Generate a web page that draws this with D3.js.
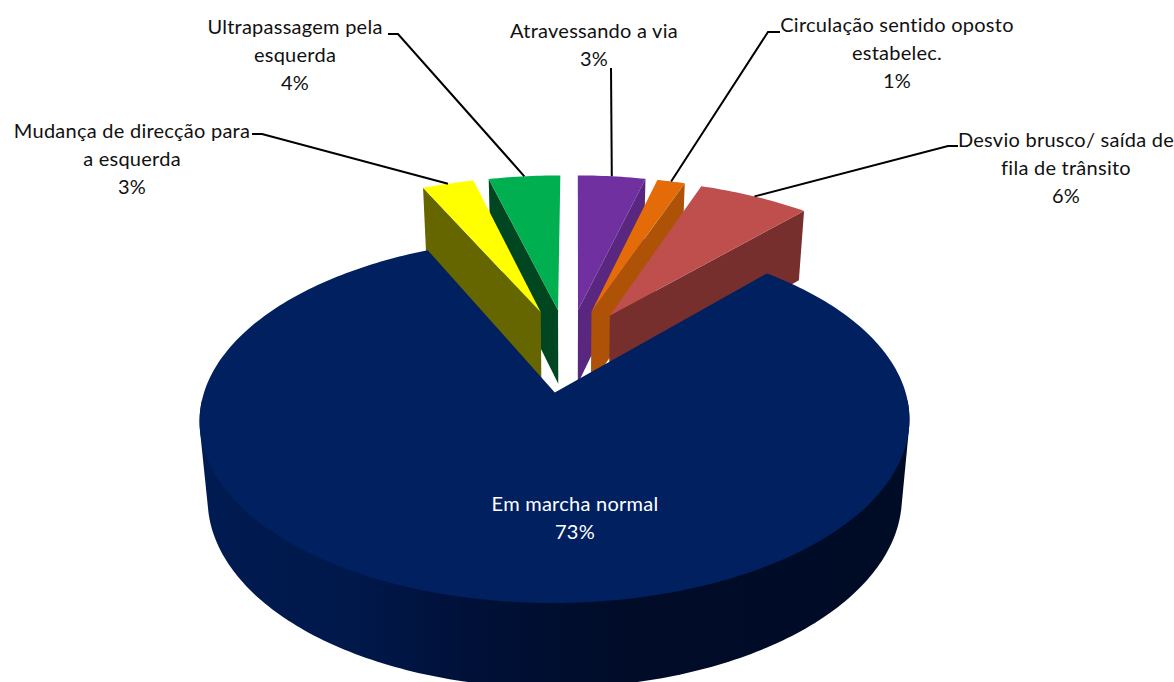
<!DOCTYPE html>
<html>
<head>
<meta charset="utf-8">
<script src="https://cdn.jsdelivr.net/npm/d3@7"></script>
<style>
html, body { margin: 0; padding: 0; background: #fff; overflow: hidden; }
text { font-family: Lato, "Open Sans", sans-serif; font-size: 20px; letter-spacing: 0.25px; fill: #111; }
</style>
</head>
<body>
<script>
// data: slice sizes as drawn, labels show them rounded
var categories = [
    "Em marcha normal",
    "Mudança de direcção para a esquerda",
    "Ultrapassagem pela esquerda",
    "Atravessando a via",
    "Circulação sentido oposto estabelec.",
    "Desvio brusco/ saída de fila de trânsito"
];
var percents = [73, 2.6, 3.6, 3.4, 1.4, 5.6];

var topColors = ["#002060", "#ffff00", "#00b050", "#7030a0", "#e36c09", "#be4f4d"];
var wallColors = ["#001540", "#666600", "#004620", "#592680", "#ad5207", "#772f2e"];

// where each text goes, and how the category name breaks into lines
var labelLayout = [
    { x: 575, y: 504, split: 99, color: "#fff" },
    { x: 132, y: 131, split: 24, end: [252, 134], elbow: [262, 134] },
    { x: 295, y: 27, split: 18, end: [388, 34], elbow: [398, 34] },
    { x: 594, y: 31, split: 99, elbow: [611, 68] },
    { x: 897, y: 25, split: 25, end: [780, 32], elbow: [768, 32] },
    { x: 1066, y: 140, split: 23, end: [958, 146], elbow: [948, 146] }
];

var width = 1174, height = 682;
var xc = 568, yc = 350;        // pie centre on the screen
var rx = 338, ry = 165.6;      // scale across / along the depth
var persp = 0.1473;            // perspective strength
var thick = 75, narrow = 0.978; // slice thickness, shrink of the lower face
var explode = 0.25;
var firstAngle = 42 * Math.PI / 180;

var svg = d3.select("body").append("svg")
    .attr("width", width)
    .attr("height", height);

var pie = d3.pie().sort(null)
    .startAngle(firstAngle)
    .endAngle(firstAngle + 2 * Math.PI);
var slices = pie(percents);

var color = d3.scaleOrdinal().domain(categories).range(topColors);
var wall = d3.scaleOrdinal().domain(categories).range(wallColors);
var path = d3.line();

// disc coordinates -> screen, low=true gives the lower face
function project(u, v, low) {
    var s = 1 / (1 - persp * v);
    var x = rx * u * s, y = yc + ry * v * s;
    if (low) {
        x = x * narrow;
        y = y + thick * Math.pow(s, 0.6);
    }
    return [xc + x, y];
}

function offset(d) {
    var mid = (d.startAngle + d.endAngle) / 2;
    return [explode * Math.sin(mid), -explode * Math.cos(mid)];
}

function rimPoint(d, a, low) {
    var o = offset(d);
    return project(o[0] + Math.sin(a), o[1] - Math.cos(a), low);
}

function apex(d, low) {
    var o = offset(d);
    return project(o[0], o[1], low);
}

function arcAngles(d) {
    var n = Math.max(8, Math.round((d.endAngle - d.startAngle) * 60));
    return d3.range(n + 1).map(function (i) {
        return d.startAngle + (d.endAngle - d.startAngle) * i / n;
    });
}

function radialWall(d, a) {
    return [apex(d, false), rimPoint(d, a, false), rimPoint(d, a, true), apex(d, true)];
}

function drawTop(d) {
    var pts = [apex(d, false)].concat(arcAngles(d).map(function (a) {
        return rimPoint(d, a, false);
    }));
    svg.append("path").attr("d", path(pts) + "Z")
        .attr("fill", color(categories[d.index]));
}

function wrap(a) {
    while (a < -Math.PI) a += 2 * Math.PI;
    while (a > Math.PI) a -= 2 * Math.PI;
    return a;
}

// small slices: the ones nearest the top go first, the side wall facing us is
// the start wall left of the centre and the end wall right of it
var small = slices.slice(1).sort(function (a, b) {
    var ma = wrap((a.startAngle + a.endAngle) / 2);
    var mb = wrap((b.startAngle + b.endAngle) / 2);
    return Math.abs(ma) - Math.abs(mb);
});

small.forEach(function (d) {
    var mid = wrap((d.startAngle + d.endAngle) / 2);
    var a = mid < 0 ? d.startAngle : d.endAngle;
    svg.append("path").attr("d", path(radialWall(d, a)) + "Z")
        .attr("fill", wall(categories[d.index]));
    drawTop(d);
});

// big slice: shaded rim then the top face. The rim is the hull of the near half
// of both faces, so the silhouette runs straight between them
var grad = svg.append("defs").append("linearGradient")
    .attr("id", "rim")
    .attr("gradientUnits", "userSpaceOnUse")
    .attr("x1", 200).attr("x2", 910).attr("y1", 0).attr("y2", 0);
[[0, "#001b52"], [0.22, "#00184a"], [0.38, "#001038"], [0.6, "#000c28"], [1, "#000c26"]]
    .forEach(function (s) {
        grad.append("stop").attr("offset", s[0]).attr("stop-color", s[1]);
    });

var main = slices[0];
var nearHalf = arcAngles(main).filter(function (a) {
    return a > 92 * Math.PI / 180 && a < 268 * Math.PI / 180;
});
var upper = nearHalf.map(function (a) { return rimPoint(main, a, false); });
var lower = nearHalf.map(function (a) { return rimPoint(main, a, true); });
svg.append("path").attr("d", path(d3.polygonHull(upper.concat(lower))) + "Z")
    .attr("fill", "url(#rim)");
drawTop(main);

// leader lines, from the label to the middle of the slice's outer edge
slices.forEach(function (d) {
    var l = labelLayout[d.index];
    if (!l.elbow) return;
    var mid = (d.startAngle + d.endAngle) / 2;
    var pts = [rimPoint(d, mid, false), l.elbow];
    if (l.end) pts.push(l.end);
    svg.append("path").attr("d", path(pts))
        .attr("fill", "none")
        .attr("stroke", "#000")
        .attr("stroke-width", 2);
});

// labels
slices.forEach(function (d) {
    var l = labelLayout[d.index];
    var name = categories[d.index];
    var lines = [name.slice(0, l.split).trim()];
    if (name.length > l.split) lines.push(name.slice(l.split).trim());
    lines.push(Math.round(percents[d.index]) + "%");
    svg.selectAll(null).data(lines).enter().append("text")
        .attr("x", l.x)
        .attr("y", function (t, i) { return l.y + i * 28; })
        .attr("dy", "0.35em")
        .attr("text-anchor", "middle")
        .style("fill", l.color || null)
        .text(function (t) { return t; });
});
</script>
</body>
</html>
